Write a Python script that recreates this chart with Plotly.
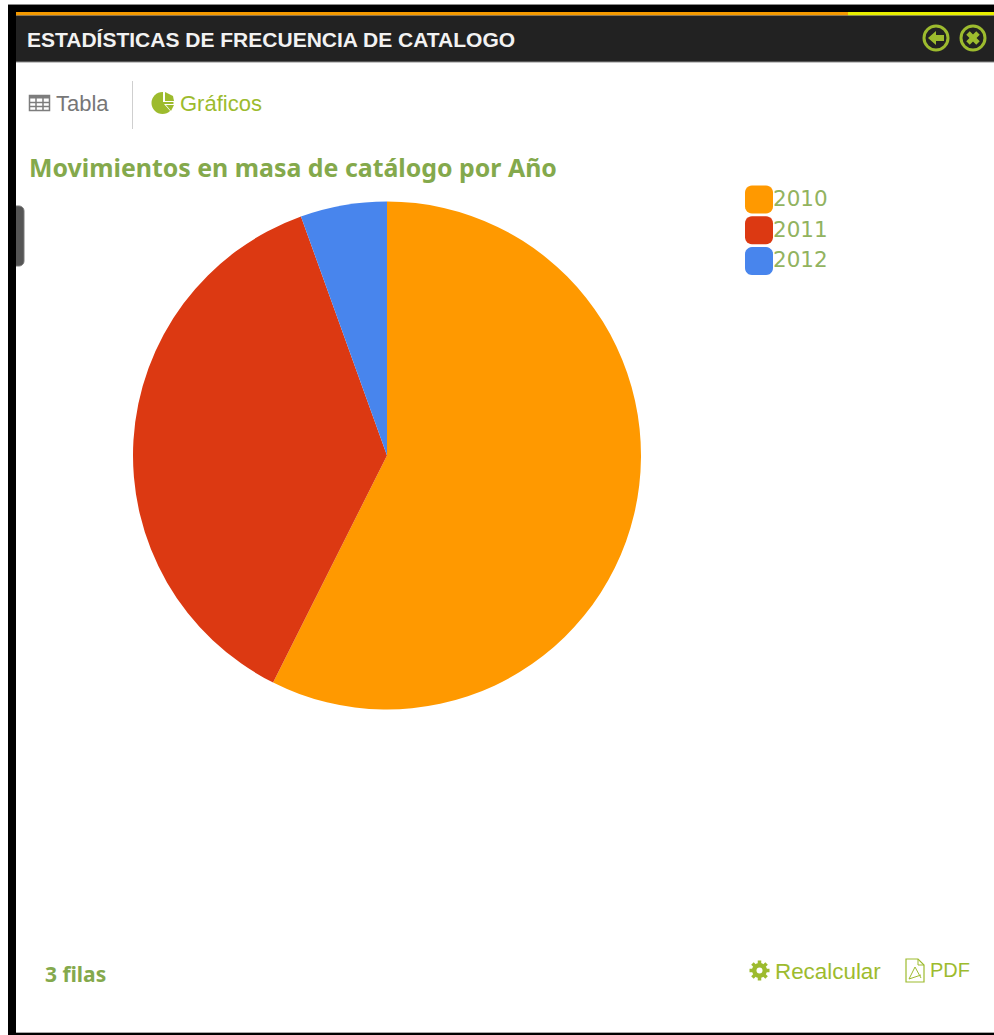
import math
import plotly.graph_objects as go

# Catalogue movement share per year
years = ["2010", "2011", "2012"]
shares = [57.4, 37.1, 5.5]
slice_colors = ["#ff9900", "#dc3912", "#4885ed"]

WIDTH, HEIGHT = 994, 1035
GREEN = "#9dbb2e"
TITLE_GREEN = "#84a94c"
LEGEND_GREEN = "#92b35f"
SANS = "Liberation Sans, sans-serif"


def px(x):
    return x / WIDTH


def py(y):
    return 1 - y / HEIGHT


def rect(x0, y0, x1, y1, fill, line=None, width=0):
    return dict(type="rect", xref="paper", yref="paper",
                x0=px(x0), x1=px(x1), y0=py(y0), y1=py(y1),
                fillcolor=fill, line=dict(color=line or fill, width=width))


def seg(x0, y0, x1, y1, color, width=1):
    return dict(type="line", xref="paper", yref="paper",
                x0=px(x0), x1=px(x1), y0=py(y0), y1=py(y1),
                line=dict(color=color, width=width))


def circle(cx, cy, r, fill, line=None, width=0):
    return dict(type="circle", xref="paper", yref="paper",
                x0=px(cx - r), x1=px(cx + r), y0=py(cy + r), y1=py(cy - r),
                fillcolor=fill, line=dict(color=line or fill, width=width))


def poly(points, fill, line=None, width=0):
    d = "M" + " L".join(f"{px(x):.5f},{py(y):.5f}" for x, y in points) + " Z"
    return dict(type="path", xref="paper", yref="paper", path=d,
                fillcolor=fill, line=dict(color=line or fill, width=width))


def rounded(x0, y0, x1, y1, r, fill, line=None, width=0):
    pts = []
    for cx, cy, start in ((x1 - r, y0 + r, -90), (x1 - r, y1 - r, 0),
                          (x0 + r, y1 - r, 90), (x0 + r, y0 + r, 180)):
        for step in range(7):
            a = math.radians(start + step * 15)
            pts.append((cx + r * math.cos(a), cy + r * math.sin(a)))
    return poly(pts, fill, line, width)


def label(x, y, text, size, color, family, bold=False, anchor="left"):
    shown = f"<b>{text}</b>" if bold else text
    return dict(xref="paper", yref="paper", x=px(x), y=py(y), text=shown,
                showarrow=False, xanchor=anchor, yanchor="middle",
                borderpad=0, align="left",
                font=dict(size=size, color=color, family=family))


def gear(cx, cy, outer, inner, hole, teeth, color):
    parts = [circle(cx, cy, inner, color)]
    for t in range(teeth):
        a = 2 * math.pi * t / teeth
        parts.append(seg(cx, cy, cx + outer * math.cos(a), cy + outer * math.sin(a), color, 3.5))
    parts.append(circle(cx, cy, hole, "#ffffff"))
    return parts


shapes = [
    # Window frame and header strip
    rect(8, 5, 16, HEIGHT, "#000000"),
    rect(8, 5, WIDTH, 12, "#000000"),
    rect(8, 1033, WIDTH, HEIGHT, "#000000"),
    seg(16, 1032.5, WIDTH, 1032.5, "#a8a8a8", 1),
    seg(8, 4.5, WIDTH, 4.5, "#8a8a8a", 1),
    rect(16, 12, 848, 15.5, "#f59a00"),
    rect(848, 12, WIDTH, 15.5, "#e8ee00"),
    rect(16, 15.5, WIDTH, 62, "#222222"),
    seg(16, 62, WIDTH, 62, "#8c8c8c", 1),
    # Close and back buttons
    circle(936, 38, 12, "#222222", GREEN, 3),
    circle(973, 38, 12, "#222222", GREEN, 3),
    poly([(928, 38), (936, 31), (936, 35), (944, 35), (944, 41), (936, 41), (936, 45)], GREEN),
    seg(968, 33, 978, 43, GREEN, 5),
    seg(978, 33, 968, 43, GREEN, 5),
    # Sidebar handle
    rounded(10, 206, 24, 266, 5, "#555555", "#777777", 1),
    rect(8, 200, 16, 272, "#000000"),
    # Tab divider
    seg(132.5, 81, 132.5, 129, "#cfcfcf", 1),
    # Table icon
    rect(29.5, 95.5, 49.5, 110.5, "#ffffff", "#7d7d7d", 1.5),
    rect(29.5, 95.5, 49.5, 98.5, "#7d7d7d"),
    seg(29.5, 102.5, 49.5, 102.5, "#7d7d7d", 1.5),
    seg(29.5, 106.5, 49.5, 106.5, "#7d7d7d", 1.5),
    seg(36, 95.5, 36, 110.5, "#7d7d7d", 1.5),
    seg(43, 95.5, 43, 110.5, "#7d7d7d", 1.5),
    # Pie icon next to the charts tab
    circle(162.5, 103, 11, GREEN),
    poly([(163, 102), (163, 91), (175, 95), (175, 102)], "#ffffff"),
    poly([(164, 104), (175, 104), (172, 113)], "#ffffff"),
    poly([(165, 92), (173, 96), (174, 101), (165, 101)], GREEN),
    poly([(166, 105), (174, 105), (171, 111)], GREEN),
    # PDF icon
    poly([(906, 959), (918, 959), (924, 965), (924, 982), (906, 982)], "#ffffff", GREEN, 1.2),
    seg(918, 959, 918, 965, GREEN, 1),
    seg(918, 965, 924, 965, GREEN, 1),
    seg(909, 979, 915, 967, GREEN, 1),
    seg(915, 967, 921, 978, GREEN, 1),
    seg(909, 979, 921, 975, GREEN, 1),
]
shapes += gear(759.5, 970.5, 10, 7.5, 3, 8, GREEN)

# Legend swatches take their colours from the slices
for i, color in enumerate(slice_colors):
    top = 185.5 + i * 30.8
    shapes.append(rounded(745, top, 773, top + 28, 7, color))

annotations = [
    label(26, 40, "ESTADÍSTICAS DE FRECUENCIA DE CATALOGO", 21, "#f2f2f2", SANS, True),
    label(55, 103, "Tabla", 22, "#777777", SANS),
    label(179, 103, "Gráficos", 22, GREEN, SANS),
    label(28, 167, "Movimientos en masa de catálogo por Año", 24.9, TITLE_GREEN, "Noto Sans", True),
    label(44, 974, "3 filas", 21, TITLE_GREEN, "Noto Sans", True),
    label(774, 971, "Recalcular", 22.4, GREEN, SANS),
    label(929, 970, "PDF", 20, GREEN, SANS),
]
for i, year in enumerate(years):
    annotations.append(label(772, 198.5 + i * 30.6, year, 21.5, LEGEND_GREEN, "DejaVu Sans"))

fig = go.Figure(go.Pie(
    labels=years,
    values=shares,
    sort=False,
    direction="clockwise",
    rotation=0,
    textinfo="none",
    hoverinfo="label+percent",
    marker=dict(colors=slice_colors, line=dict(width=0)),
    domain=dict(x=[px(133), px(641)], y=[py(709.5), py(201.5)]),
))

fig.update_layout(
    width=WIDTH,
    height=HEIGHT,
    margin=dict(l=0, r=0, t=0, b=0),
    paper_bgcolor="#ffffff",
    showlegend=False,
    shapes=shapes,
    annotations=annotations,
)

fig.write_html("out.html", config=dict(displayModeBar=False))
